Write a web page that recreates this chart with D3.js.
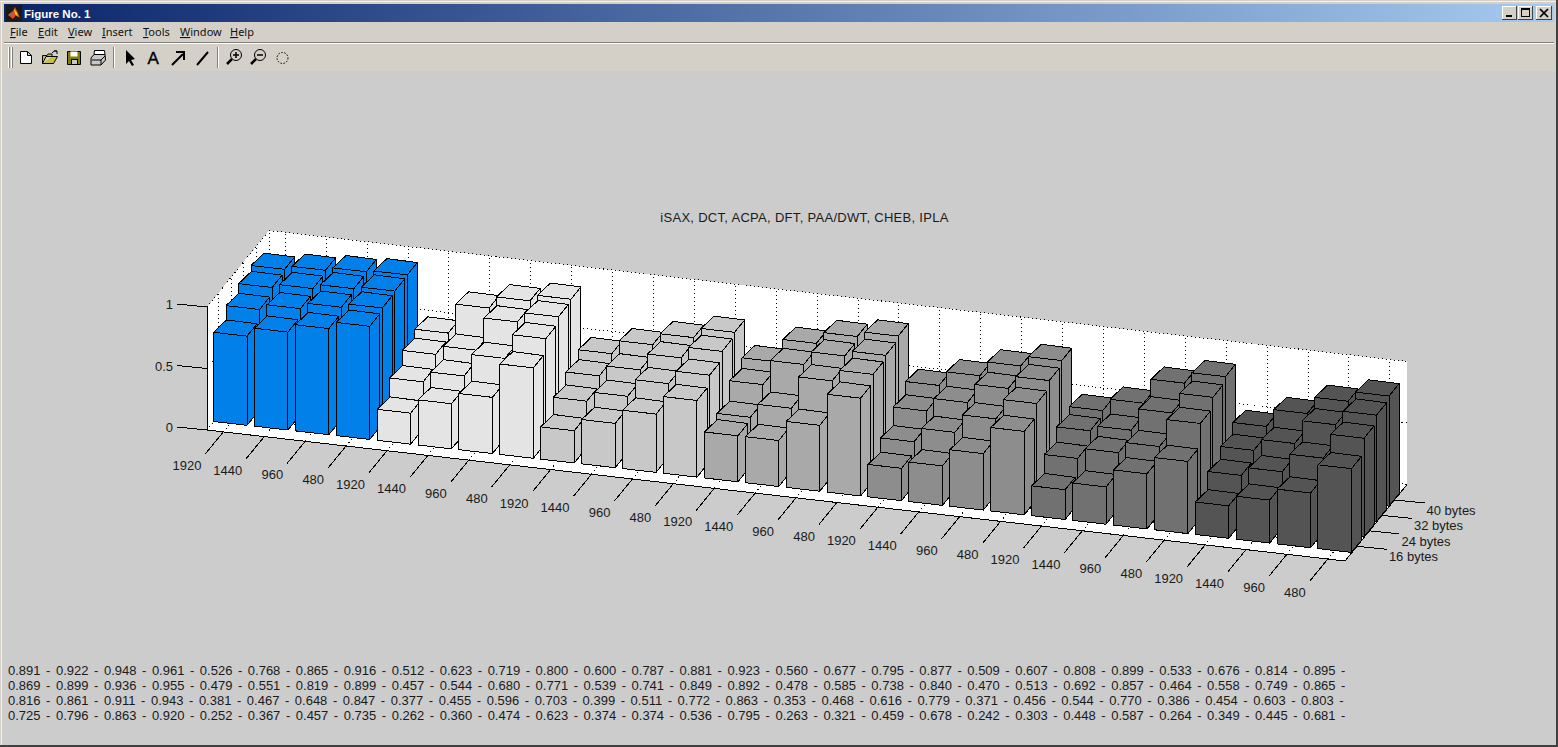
<!DOCTYPE html>
<html><head><meta charset="utf-8">
<style>
html,body{margin:0;padding:0;background:#fff;overflow:hidden}
svg{display:block}
text{font-family:"Liberation Sans",Arial,sans-serif;fill:#1a1a1a}
</style>
<script src="https://cdn.jsdelivr.net/npm/d3@7/dist/d3.min.js"></script>
</head><body>
<svg id="fig" width="1558" height="747"></svg>
<script>
const titleText = "iSAX, DCT, ACPA, DFT, PAA/DWT, CHEB, IPLA";
const xLabels = ["1920","1440","960","480"];
const rowLabels = ["16 bytes","24 bytes","32 bytes","40 bytes"];
const zTicks = [0,0.5,1];
const groupColors = ["#0080E8","#E4E4E4","#C8C8C8","#A9A9A9","#8D8D8D","#717171","#545454"];
const row40 = [.891,.922,.948,.961,.526,.768,.865,.916,.512,.623,.719,.800,.600,.787,.881,.923,.560,.677,.795,.877,.509,.607,.808,.899,.533,.676,.814,.895];
const row32 = [.869,.899,.936,.955,.479,.551,.819,.899,.457,.544,.680,.771,.539,.741,.849,.892,.478,.585,.738,.840,.470,.513,.692,.857,.464,.558,.749,.865];
const row24 = [.816,.861,.911,.943,.381,.467,.648,.847,.377,.455,.596,.703,.399,.511,.772,.863,.353,.468,.616,.779,.371,.456,.544,.770,.386,.454,.603,.803];
const row16 = [.725,.796,.863,.920,.252,.367,.457,.735,.262,.360,.474,.623,.374,.374,.536,.795,.263,.321,.459,.678,.242,.303,.448,.587,.264,.349,.445,.681];
const menus = ["File","Edit","View","Insert","Tools","Window","Help"];
const menuX = [10,38,68,102,143,180,230];

const rows = [row16,row24,row32,row40];          // front to back
const svg = d3.select("#fig");
const defs = svg.append("defs");
const grad = defs.append("linearGradient").attr("id","tb");
grad.append("stop").attr("offset","0").attr("stop-color","#0A246A");
grad.append("stop").attr("offset","1").attr("stop-color","#A6CAF0");

/* ---------- window chrome ---------- */
const chrome = svg.append("g");
const rect=(g,x,y,w,h,f)=>g.append("rect").attr("x",x).attr("y",y).attr("width",w).attr("height",h).attr("fill",f);
const ln=(g,x1,y1,x2,y2,c,w=1)=>g.append("line").attr("x1",x1).attr("y1",y1).attr("x2",x2).attr("y2",y2).attr("stroke",c).attr("stroke-width",w);
rect(chrome,0,0,1558,747,"#D4D0C8");
ln(chrome,0,1.5,1556,1.5,"#F4F2EE");
ln(chrome,1.5,1,1.5,745,"#F4F2EE");
rect(chrome,1556,0,2,747,"#404040");
rect(chrome,0,745,1558,2,"#404040");
rect(chrome,4,4,1550,18,"url(#tb)");
chrome.append("text").attr("x",24).attr("y",17.5).attr("font-size",11.5).attr("font-weight",700).style("fill","#fff").text("Figure No. 1");
// matlab logo
rect(chrome,6,5,16,16,"#1a1a1a");
chrome.append("path").attr("d","M8 15 L13 11 L15 7 L18 13 L20 18 L16 15 L13 19 Z").attr("fill","#E8481E");
chrome.append("path").attr("d","M14 9 L17 13 L18 17 L15 14 Z").attr("fill","#F6D020");
chrome.append("path").attr("d","M8 15 L12 12 L13 14 Z").attr("fill","#5A8090");
// window buttons
[[1502,15],[1518,15],[1536,16]].forEach(([x,w])=>{
  rect(chrome,x,6,w,14,"#D4D0C8");
  ln(chrome,x,6.5,x+w,6.5,"#fff"); ln(chrome,x+.5,6,x+.5,20,"#fff");
  ln(chrome,x,19.5,x+w,19.5,"#404040"); ln(chrome,x+w-.5,6,x+w-.5,20,"#404040");
});
rect(chrome,1506,15,6,2,"#000");
chrome.append("rect").attr("x",1521.5).attr("y",8.5).attr("width",8).attr("height",8).attr("fill","none").attr("stroke","#000");
ln(chrome,1521,9,1530,9,"#000",2);
ln(chrome,1540,9,1548,17,"#000",1.7); ln(chrome,1548,9,1540,17,"#000",1.7);
// menus
menus.forEach((m,i)=>{
  const t=chrome.append("text").attr("x",menuX[i]).attr("y",36).attr("font-size",11).style("font-family","'Noto Sans','DejaVu Sans',sans-serif").style("fill","#111");
  t.append("tspan").style("text-decoration","underline").text(m[0]);
  t.append("tspan").text(m.slice(1));
});
ln(chrome,4,42.5,1554,42.5,"#808080");
ln(chrome,4,43.5,1554,43.5,"#fff");
// toolbar grips and separators
[[8.5,"#fff"],[9.5,"#808080"],[11.5,"#fff"],[12.5,"#808080"],[113.5,"#808080"],[114.5,"#fff"],[217.5,"#808080"],[218.5,"#fff"]].forEach(([x,c])=>ln(chrome,x,47,x,68,c));
const ic=chrome.append("g").attr("fill","none").attr("stroke","#000");
ic.append("path").attr("d","M20.5 51.5 H27.5 L31.5 55.5 V63.5 H20.5 Z M27.5 51.5 V55.5 H31.5").attr("fill","#fff");
ic.append("path").attr("d","M42.5 63.5 V55.5 H47 L48 54 H52 V56.5 H46 L42.5 63.5 H53.5 L57.5 56.5 H52").attr("fill","#C8C040");
ic.append("path").attr("d","M52 53 Q54 50 57 51 M57 51 L57 54 M57 51 L54 51").attr("stroke-width",1);
ic.append("path").attr("d","M67.5 51.5 H80.5 V64.5 H67.5 Z").attr("fill","#808000");
ic.append("rect").attr("x",70.5).attr("y",51.5).attr("width",7).attr("height",5).attr("fill","#fff").attr("stroke","none");
ic.append("rect").attr("x",71.5).attr("y",59.5).attr("width",6).attr("height",5).attr("fill","#C8C8C8").attr("stroke","#000");
ic.append("path").attr("d","M94.5 50.5 H104.5 L105 54.5 H94 Z").attr("fill","#fff");
ic.append("path").attr("d","M91 58 L94 54.5 H105 L105.5 60 L101 65 H91 Z").attr("fill","#C8C8C8");
ic.append("path").attr("d","M92 60 H101 L105 56 M101 60 V65");
chrome.append("path").attr("d","M126 50 L126 64 L129 61 L132 66 L134 65 L131 60 L135 59 Z").attr("fill","#000");
chrome.append("text").attr("x",147.5).attr("y",64).attr("font-size",17).style("fill","#000").style("stroke","#000").style("stroke-width",".4").text("A");
ic.append("path").attr("d","M172 65 L183 54 M176 52 H184 V60").attr("stroke-width",2);
ic.append("path").attr("d","M197 65 L208 52").attr("stroke-width",2);
[[236,1],[260,0]].forEach(([cx,plus])=>{
  ic.append("circle").attr("cx",cx).attr("cy",55).attr("r",5.5);
  ic.append("path").attr("d",`M${cx-4} 59 L${cx-9} 64`).attr("stroke-width",2.5);
  ic.append("path").attr("d",plus?`M${cx-3} 55 H${cx+3} M${cx} 52 V58`:`M${cx-3} 55 H${cx+3}`).attr("stroke-width",1.5);
});
ic.append("circle").attr("cx",282.5).attr("cy",58).attr("r",5.5).attr("stroke-dasharray","1.5 1.5");
// figure background
rect(chrome,2,71,1554,674,"#CCCCCC");

/* ---------- 3-D axes through scales ---------- */
const fx = d3.scaleLinear().domain([-0.40,27.42]).range([0,1]);
const fy = d3.scaleLinear().domain([-0.95,4.0]).range([0,1]);
const fz = d3.scaleLinear().domain([0,1]).range([0,123]);
const P = (x,y,z)=>[207+fx(x)*1138+fy(y)*62, 430+fx(x)*131-fy(y)*76.5-fz(z)];
const [xa,xb]=fx.domain(), [ya,yb]=fy.domain();
const poly = d3.line();
const ax = svg.append("g").attr("shape-rendering","crispEdges");

// white box
ax.append("path").attr("fill","#fff").attr("d",poly([P(xa,ya,0),P(xa,ya,1),P(xa,yb,1),P(xb,yb,1),P(xb,yb,0),P(xb,ya,0)])+"Z");

const nX = row16.length;
const xIdx = d3.range(nX), yIdx = d3.range(rows.length);
const dotted=(a,b)=>ax.append("path").attr("d",poly([a,b])).attr("fill","none").attr("stroke","#000").attr("stroke-dasharray","1 3");
const solid=(a,b)=>ax.append("path").attr("d",poly([a,b])).attr("fill","none").attr("stroke","#000");
xIdx.forEach(i=>{dotted(P(i,ya,0),P(i,yb,0));dotted(P(i,yb,0),P(i,yb,1));});
yIdx.forEach(j=>{dotted(P(xa,j,0),P(xb,j,0));dotted(P(xa,j,0),P(xa,j,1));});
zTicks.forEach(z=>{dotted(P(xa,ya,z),P(xa,yb,z));dotted(P(xa,yb,z),P(xb,yb,z));});
dotted(P(xa,yb,0),P(xa,yb,1));
solid(P(xa,ya,0),P(xb,ya,0));
solid(P(xb,ya,0),P(xb,yb,0));
solid(P(xa,ya,0),P(xa,ya,1));

const txt = svg.append("g").attr("font-size",13);
// x ticks
xIdx.forEach(i=>{
  const [a,b]=P(i,ya,0);
  ax.append("line").attr("x1",a).attr("y1",b).attr("x2",a-18).attr("y2",b+22).attr("stroke","#000");
  txt.append("text").attr("x",a-22).attr("y",b+38).attr("text-anchor","end").text(xLabels[i%xLabels.length]);
});
// y ticks
yIdx.forEach(j=>{
  const [a,b]=P(xb,j,0);
  ax.append("line").attr("x1",a).attr("y1",b).attr("x2",a+30).attr("y2",b+3).attr("stroke","#000");
  txt.append("text").attr("x",a+32).attr("y",b+15).text(rowLabels[j]);
});
// z ticks
zTicks.forEach(z=>{
  const [a,b]=P(xa,ya,z);
  ax.append("line").attr("x1",a).attr("y1",b).attr("x2",a-30).attr("y2",b-3).attr("stroke","#000");
  txt.append("text").attr("x",a-34).attr("y",b+2).attr("text-anchor","end").text(z);
});

/* ---------- bars, far row first, left to right ---------- */
const hx=0.41, hy=0.4, skew=3;
const bars=svg.append("g").attr("shape-rendering","crispEdges").attr("stroke","#000").attr("stroke-linejoin","round");
d3.range(rows.length-1,-1,-1).forEach(j=>{
  rows[j].forEach((v,i)=>{
    const c=groupColors[Math.floor(i/xLabels.length)];
    const x0=i-hx,x1=i+hx,y0=j-hy,y1=j+hy;
    const g=bars.append("g").attr("fill",c);
    g.append("path").attr("d",poly([P(x1,y0,0),P(x1,y1,0),P(x1,y1,v),P(x1,y0,v)])+"Z");
    const bl=P(x0,y1,v);
    g.append("path").attr("d",poly([P(x0,y0,v),[bl[0]+skew,bl[1]],P(x1,y1,v),P(x1,y0,v)])+"Z");
    g.append("path").attr("d",poly([P(x0,y0,0),P(x1,y0,0),P(x1,y0,v),P(x0,y0,v)])+"Z");
  });
});

/* ---------- text ---------- */
const tg=svg.append("g").attr("font-size",13);
tg.append("text").attr("x",804.5).attr("y",222).attr("text-anchor","middle").style("letter-spacing","0.3px").text(titleText);
[row40,row32,row24,row16].forEach((r,k)=>{
  tg.append("text").attr("x",8).attr("y",675+k*15).style("word-spacing","1.94px")
    .text(r.map(v=>v.toFixed(3)+" - ").join("").trim());
});
</script>
</body></html>
